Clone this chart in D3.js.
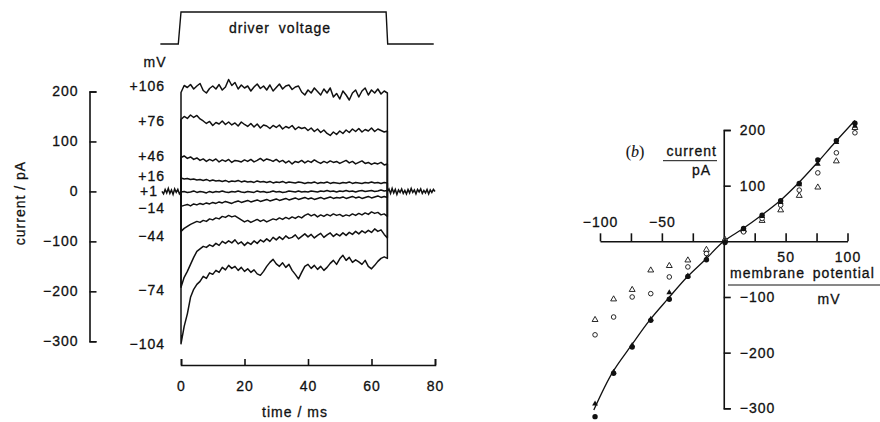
<!DOCTYPE html>
<html>
<head>
<meta charset="utf-8">
<script src="https://cdn.jsdelivr.net/npm/d3@7"></script>
<style>
  body { margin: 0; background: #fff; }
  svg { display: block; font-family: "Liberation Sans", Arial, sans-serif; }
  text { fill: #111; stroke: #111; stroke-width: 0.3px; }
</style>
</head>
<body>
<svg id="svg"></svg>
<script>
// ---- panel (a): current traces, pA, one sample per ms from 0 to 65 ms ----
const traceLabels = ["+106", "+76", "+46", "+16", "+1", "−14", "−44", "−74", "−104"];
const labelLevels = [211, 141, 70, 30, 0, -33, -90, -197, -305];

const trace106 = [198, 212, 208, 214, 205, 211, 216, 202, 197, 206,
  211, 205, 214, 203, 209, 224, 212, 218, 205, 213,
  207, 211, 201, 209, 215, 206, 211, 203, 213, 201,
  208, 215, 205, 211, 213, 204, 209, 211, 199, 193,
  203, 197, 207, 200, 193, 205, 197, 207, 189, 196,
  185, 201, 193, 183, 197, 203, 189, 201, 207, 193,
  203, 197, 205, 195, 201, 197];
const trace76 = [144, 150, 146, 153, 148, 152, 145, 141, 136, 140,
  132, 138, 135, 141, 134, 139, 133, 137, 131, 139,
  134, 130, 136, 129, 135, 127, 133, 131, 126, 132,
  128, 133, 125, 130, 127, 132, 124, 129, 126, 128,
  122, 127, 120, 125, 118, 123, 116, 112, 119, 114,
  121, 116, 123, 118, 125, 120, 126, 119, 124, 121,
  127, 120, 125, 122, 119, 121];
const trace46 = [68, 71, 66, 69, 64, 67, 62, 65, 60, 64,
  61, 65, 59, 63, 60, 64, 58, 62, 61, 59,
  63, 60, 64, 59, 62, 66, 61, 65, 63, 60,
  64, 59, 62, 57, 61, 55, 60, 58, 62, 57,
  61, 58, 63, 59, 56, 60, 57, 61, 58, 60,
  56, 59, 62, 57, 60, 55, 58, 61, 56, 58,
  54, 57, 55, 58, 53, 55];
const trace16 = [27, 25, 26, 24, 25, 23, 24, 22, 24, 21,
  23, 21, 22, 20, 22, 19, 21, 20, 22, 19,
  21, 19, 20, 18, 21, 19, 20, 18, 20, 17,
  19, 18, 20, 17, 19, 18, 17, 19, 18, 16,
  18, 17, 19, 16, 18, 17, 19, 16, 18, 17,
  16, 18, 17, 19, 16, 18, 17, 16, 18, 17,
  19, 17, 18, 16, 18, 17];
const trace1 = [-1, 0, -2, -1, 1, -2, 0, -1, -3, 0,
  -2, 0, -1, 1, -1, -2, 0, -1, 1, -1,
  -2, 0, -1, -2, 1, -1, 0, -2, -1, 1,
  -1, 0, -2, -1, 1, 0, -1, 1, -1, 0,
  -1, 1, 0, -1, 1, 0, 2, 0, 1, -1,
  1, 0, 2, 0, 1, -1, 1, 2, 0, 1,
  2, 0, 1, 3, 1, 2];
const traceM14 = [-30, -28, -26, -29, -25, -27, -24, -26, -23, -25,
  -22, -24, -21, -23, -20, -22, -24, -21, -19, -22,
  -20, -18, -21, -19, -17, -20, -18, -16, -19, -17,
  -15, -18, -16, -14, -17, -15, -13, -16, -14, -12,
  -15, -13, -16, -14, -12, -15, -13, -11, -14, -12,
  -13, -11, -14, -12, -10, -13, -11, -14, -12, -10,
  -13, -11, -9, -12, -10, -12];
const traceM44 = [-80, -74, -70, -66, -63, -60, -62, -58, -60, -55,
  -57, -53, -55, -50, -52, -48, -51, -49, -53, -57,
  -61, -58, -62, -59, -56, -60, -57, -61, -58, -55,
  -57, -53, -56, -52, -55, -51, -54, -50, -53, -48,
  -45, -49, -46, -51, -47, -50, -46, -49, -45, -48,
  -46, -50, -47, -49, -45, -48, -44, -47, -43, -46,
  -41, -44, -42, -47, -45, -50];
const traceM74 = [-192, -172, -160, -146, -132, -120, -115, -110, -112, -107,
  -110, -104, -108, -100, -104, -99, -103, -97, -105, -101,
  -108, -102, -106, -99, -104, -97, -101, -95, -100, -92,
  -97, -91, -96, -89, -94, -92, -87, -95, -90, -85,
  -91, -86, -93, -88, -84, -92, -87, -83, -90, -85,
  -89, -83, -88, -82, -86, -80, -85, -79, -83, -78,
  -82, -75, -80, -77, -86, -93];
const traceM104 = [-305, -270, -245, -212, -196, -186, -180, -170, -174, -163,
  -166, -158, -162, -152, -157, -148, -154, -150, -158, -152,
  -160, -155, -162, -157, -165, -168, -160, -150, -142, -136,
  -145, -150, -143, -152, -146, -158, -166, -175, -162, -150,
  -146, -154, -148, -156, -150, -158, -152, -144, -138, -146,
  -135, -128, -138, -132, -142, -137, -141, -146, -138, -150,
  -155, -148, -140, -134, -131, -134];
const traceTimes = d3.range(0, 66);

// holding current before and after the pulse, one sample per 0.5 ms
const preTimes = d3.range(-6, 0.01, 0.5);
const preCurrent = [0, -5, 4, -3, 6, -4, 3, -6, 5, -2, 4, -5, 0];
const postTimes = d3.range(65, 80.01, 0.5);
const postCurrent = [0, 5, -4, 6, -3, 4, -6, 3, -2, 5, -4, 2, -5, 4, -3, 6, -2, 3, -5, 4,
  -1, 5, -4, 2, -3, 4, -5, 3, -2, 4, 0];

// driver voltage step (0 = off, 1 = on)
const driverTimes = [-6.5, -0.85, 0, 64.6, 65.1, 79.6];
const driverLevels = [0, 0, 1, 1, 0, 0];

// ---- panel (b): current-voltage relation ----
const ivVoltages = [-104, -89, -74, -59, -44, -29, -14, 1, 16, 31, 46, 61, 76, 91, 106];
const filledCircle = [-315, -237, -190, -142, -104, -63, -33, -2, 23, 47, 73, 104, 146, 181, 212];
const filledTriangle = [-292, -235, -187, -140, -92, -62, -31, 0, 22, 45, 70, 102, 139, 178, 207];
const openCircle = [-168, -136, -100, -94, -64, -46, -22, 1, 17, 41, 65, 92, 123, 159, 195];
const openTriangle = [-141, -104, -87, -52, -44, -34, -15, 3, 20, 37, 56, 82, 97, 144, 204];
const fitVoltages = [-105, -90, -75, -60, -45, -30, -15, 0, 15, 30, 45, 60, 75, 90, 106];
const fitCurrent = [-303, -236, -188, -142, -103, -65, -33, 0, 22, 46, 72, 104, 140, 178, 217];

const ink = "#111";

let svg = d3.select("#svg").attr("width", 880).attr("height", 422);
svg.append("rect").attr("width", 880).attr("height", 422).attr("fill", "#fff");

// ================= panel (a) =================
let xa = d3.scaleLinear().domain([0, 80]).range([181, 435]);
let ya = d3.scaleLinear().domain([-300, 200]).range([341.3, 91.5]);
let yDriver = d3.scaleLinear().domain([0, 1]).range([44, 12]);

let line = d3.line().x(d => d[0]).y(d => d[1]);

function styleAxis(g) {
  g.selectAll("path, line").attr("stroke", ink).attr("stroke-width", 1.6);
  g.selectAll("text").attr("fill", ink).attr("font-size", 14)
    .attr("font-family", "'Liberation Sans', Arial, sans-serif").attr("letter-spacing", "1px");
}

svg.append("g")
  .attr("transform", "translate(89.5,0)")
  .call(d3.axisLeft(ya).tickValues([-300, -200, -100, 0, 100, 200])
    .tickSizeInner(-7).tickSizeOuter(-7).tickPadding(11))
  .call(styleAxis);

svg.append("g")
  .attr("transform", "translate(0,365)")
  .call(d3.axisBottom(xa).tickValues([0, 20, 40, 60, 80])
    .tickSizeInner(-6).tickSizeOuter(-6).tickPadding(16))
  .call(styleAxis);

svg.append("text")
  .attr("transform", "translate(25,203) rotate(-90)")
  .attr("text-anchor", "middle").attr("font-size", 14).attr("letter-spacing", "1px")
  .text("current  /  pA");

svg.append("text")
  .attr("x", 295).attr("y", 417)
  .attr("text-anchor", "middle").attr("font-size", 14).attr("letter-spacing", "1px")
  .text("time  /  ms");

// driver voltage
svg.append("path")
  .attr("d", line(driverTimes.map((t, i) => [xa(t), yDriver(driverLevels[i])])))
  .attr("fill", "none").attr("stroke", ink).attr("stroke-width", 1.4);

svg.append("text")
  .attr("x", 280).attr("y", 32.5)
  .attr("text-anchor", "middle").attr("font-size", 14)
  .attr("letter-spacing", "1px").attr("word-spacing", "4px")
  .text("driver voltage");

// baseline noise
[[preTimes, preCurrent], [postTimes, postCurrent]].forEach(([ts, vs]) => {
  svg.append("path")
    .attr("d", line(ts.map((t, i) => [xa(t), ya(vs[i])])))
    .attr("fill", "none").attr("stroke", ink).attr("stroke-width", 1.5);
});

// traces
const traces = [trace106, trace76, trace46, trace16, trace1, traceM14, traceM44, traceM74, traceM104];
svg.append("g").selectAll("path")
  .data(traces)
  .join("path")
  .attr("d", vs => line([[xa(0), ya(0)]]
    .concat(vs.map((v, i) => [xa(traceTimes[i]), ya(v)]))
    .concat([[xa(traceTimes[vs.length - 1]), ya(0)]])))
  .attr("fill", "none").attr("stroke", ink).attr("stroke-width", 1.5)
  .attr("stroke-linejoin", "round");

// trace labels
svg.append("g").selectAll("text")
  .data(traceLabels)
  .join("text")
  .attr("x", (d, i) => labelLevels[i] === 0 ? xa(preTimes[0]) - 4 : 165)
  .attr("y", (d, i) => ya(labelLevels[i]))
  .attr("dy", "0.35em")
  .attr("text-anchor", "end").attr("font-size", 14).attr("letter-spacing", "1px")
  .text(d => d);

svg.append("text")
  .attr("x", 155).attr("y", ya(258)).attr("dy", "0.35em")
  .attr("text-anchor", "middle").attr("font-size", 14).attr("letter-spacing", "1px")
  .text("mV");

// ================= panel (b) =================
let xb = d3.scaleLinear().domain([-100, 100]).range([600, 847.5]);
let yb = d3.scaleLinear().domain([-300, 200]).range([408.3, 130]);

svg.append("g")
  .attr("transform", `translate(0,${yb(0)})`)
  .call(d3.axisBottom(xb).tickValues([-100, -75, -50, -25, 25, 50, 75, 100])
    .tickSizeInner(-8).tickSizeOuter(0).tickFormat(""))
  .call(styleAxis);

svg.append("g")
  .attr("transform", `translate(0,${yb(0)})`)
  .call(d3.axisTop(xb).tickValues([-100, -50]).tickSize(0).tickPadding(14))
  .call(g => g.select(".domain").remove())
  .call(styleAxis);

svg.append("g")
  .attr("transform", `translate(0,${yb(0)})`)
  .call(d3.axisBottom(xb).tickValues([50, 100]).tickSize(0).tickPadding(11))
  .call(g => g.select(".domain").remove())
  .call(styleAxis);

svg.append("g")
  .attr("transform", `translate(${xb(0)},0)`)
  .call(d3.axisRight(yb).tickValues([-300, -200, -100, 100, 200])
    .tickSizeInner(7).tickSizeOuter(7).tickPadding(9))
  .call(styleAxis);

// axis titles of (b)
svg.append("text")
  .attr("x", 635).attr("y", 157)
  .attr("text-anchor", "middle").attr("font-size", 16)
  .attr("font-family", "'Liberation Serif', serif")
  .style("stroke-width", "0.1px")
  .html("(<tspan font-style='italic'>b</tspan>)");

svg.append("text")
  .attr("x", 717).attr("y", 156)
  .attr("text-anchor", "end").attr("font-size", 14).attr("letter-spacing", "1px")
  .text("current");
svg.append("line")
  .attr("x1", 663).attr("x2", 717).attr("y1", 160.7).attr("y2", 160.7)
  .attr("stroke", ink).attr("stroke-width", 1);
svg.append("text")
  .attr("x", 711).attr("y", 175)
  .attr("text-anchor", "end").attr("font-size", 14).attr("letter-spacing", "1px")
  .text("pA");

svg.append("text")
  .attr("x", 730).attr("y", 278)
  .attr("font-size", 14).attr("letter-spacing", "1px").attr("word-spacing", "3px")
  .text("membrane potential");
svg.append("line")
  .attr("x1", 728).attr("x2", 880).attr("y1", 285).attr("y2", 285)
  .attr("stroke", ink).attr("stroke-width", 1);
svg.append("text")
  .attr("x", 829).attr("y", 304)
  .attr("text-anchor", "middle").attr("font-size", 14).attr("letter-spacing", "1px")
  .text("mV");

// fitted curve
svg.append("path")
  .datum(fitVoltages.map((v, i) => [v, fitCurrent[i]]))
  .attr("d", d3.line().x(d => xb(d[0])).y(d => yb(d[1])).curve(d3.curveCatmullRom))
  .attr("fill", "none").attr("stroke", ink).attr("stroke-width", 1.3);

let marks = svg.append("g");
const tri = d3.symbol(d3.symbolTriangle, 15);

marks.selectAll(".otri")
  .data(ivVoltages.map((v, i) => [v, openTriangle[i]]))
  .join("path").attr("class", "otri")
  .attr("transform", d => `translate(${xb(d[0])},${yb(d[1])})`)
  .attr("d", tri)
  .attr("fill", "#fff").attr("stroke", ink).attr("stroke-width", 0.9);

marks.selectAll(".ocirc")
  .data(ivVoltages.map((v, i) => [v, openCircle[i]]))
  .join("circle").attr("class", "ocirc")
  .attr("cx", d => xb(d[0])).attr("cy", d => yb(d[1])).attr("r", 2.3)
  .attr("fill", "#fff").attr("stroke", ink).attr("stroke-width", 0.9);

marks.selectAll(".ftri")
  .data(ivVoltages.map((v, i) => [v, filledTriangle[i]]))
  .join("path").attr("class", "ftri")
  .attr("transform", d => `translate(${xb(d[0])},${yb(d[1])})`)
  .attr("d", tri)
  .attr("fill", ink);

marks.selectAll(".fcirc")
  .data(ivVoltages.map((v, i) => [v, filledCircle[i]]))
  .join("circle").attr("class", "fcirc")
  .attr("cx", d => xb(d[0])).attr("cy", d => yb(d[1])).attr("r", 2.7)
  .attr("fill", ink);
</script>
</body>
</html>
